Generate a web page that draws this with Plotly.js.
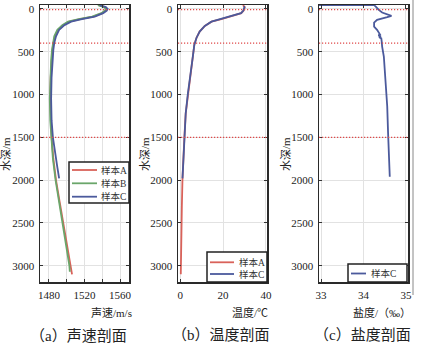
<!DOCTYPE html>
<html>
<head>
<meta charset="utf-8">
<script src="https://cdn.plot.ly/plotly-3.0.1.min.js"></script>
<style>html,body{margin:0;padding:0;background:#fff;}#chart{width:423px;height:351px;}</style>
</head>
<body>
<div id="chart"></div>
<script>
// ---- Data ----
// Sound speed profiles (m/s) vs depth (m)
const speedDepthA = [-44, -20, 0, 20, 50, 90, 120, 150, 190, 245, 320, 400, 480, 600, 800, 1050, 1300, 1500, 1750, 2000, 2250, 2500, 2750, 3000, 3100];
const speedA      = [1536, 1543, 1545, 1544, 1540, 1530, 1515, 1503, 1496, 1490.5, 1487, 1485, 1484, 1483, 1482, 1481.5, 1482, 1483, 1485, 1488, 1492, 1496, 1500, 1504, 1506];
const speedDepthB = [-44, -20, 0, 20, 50, 90, 120, 150, 190, 245, 320, 400, 480, 600, 800, 1050, 1300, 1500, 1750, 2000, 2250, 2500, 2750, 3000, 3070];
const speedB      = [1535, 1542, 1544, 1543, 1539, 1528.5, 1513.5, 1501.5, 1495, 1489.5, 1486, 1484.5, 1483.5, 1482.5, 1481.5, 1481, 1481.5, 1482.5, 1484.5, 1487.5, 1491.5, 1495.5, 1499.5, 1503, 1503.5];
const speedDepthC = [-44, -20, 0, 20, 50, 90, 120, 150, 190, 245, 320, 400, 480, 600, 800, 1050, 1300, 1500, 1710, 1850, 1980];
const speedC      = [1537, 1544, 1546, 1545, 1541, 1531.5, 1517, 1505, 1497.5, 1491.5, 1488, 1486, 1485, 1484, 1483, 1482.5, 1483, 1484.5, 1487, 1489.5, 1491.5];

// Temperature profiles (°C) vs depth (m)
const tempDepthA = [-44, -20, 0, 20, 50, 80, 120, 150, 200, 265, 340, 420, 560, 790, 990, 1220, 1490, 1730, 1980, 2300, 2700, 3100];
const tempA      = [29.3, 30.1, 29.9, 29.6, 28.5, 24.7, 19.2, 14.6, 11.5, 9.1, 7.6, 6.6, 5.9, 4.6, 3.6, 2.6, 2.0, 1.5, 1.1, 0.8, 0.5, 0.3];
const tempDepthC = [-30, -20, 0, 20, 50, 80, 120, 150, 200, 265, 340, 420, 560, 790, 990, 1220, 1490, 1730, 1980];
const tempC      = [29.6, 30.0, 29.8, 29.5, 28.4, 24.6, 19.1, 14.6, 11.5, 9.1, 7.6, 6.6, 5.9, 4.6, 3.6, 2.6, 2.0, 1.5, 1.1];

// Salinity profile (‰) vs depth (m)
const salDepthC = [-43, -43, -27, 12, 43, 70, 82, 97, 109, 128, 160, 207, 245, 284, 300, 310, 320, 330, 345, 382, 440, 557, 830, 1140, 1450, 1960];
const salC      = [32.9, 34.25, 34.29, 34.36, 34.44, 34.6, 34.66, 34.56, 34.44, 34.32, 34.25, 34.25, 34.32, 34.36, 34.39, 34.35, 34.41, 34.37, 34.42, 34.43, 34.44, 34.48, 34.52, 34.56, 34.58, 34.62];

// Reference depths marked with red dotted lines (m)
const markerDepths = [10, 400, 1500];

// Tick labels
const depthTicks = [0, 500, 1000, 1500, 2000, 2500, 3000];
const speedTicks = [1480, 1500, 1520, 1540, 1560];
const speedTickText = ['1480', '', '1520', '', '1560'];
const tempTicks = [0, 20, 40];
const salTicks = [33, 34, 35];

const seriesNames = ['样本A', '样本B', '样本C'];
const panelCaptions = ['（a）声速剖面', '（b）温度剖面', '（c）盐度剖面'];
const xTitles = ['声速/m/s', '温度/℃', '盐度/（‰）'];
const yTitle = '水深/m';

// ---- Styling ----
const W = 423, H = 351;
const px = x => x / W;
const py = y => 1 - y / H;
const FONT = '"Liberation Serif", "Times New Roman", "Noto Sans CJK SC", serif';
const COLS = ['#d9625a', '#6aa66a', '#4b5a9c'];
const LW = 1.8;

const traces = [
  {x: speedA, y: speedDepthA, name: seriesNames[0], xaxis: 'x', yaxis: 'y', line: {color: COLS[0], width: LW}},
  {x: speedB, y: speedDepthB, name: seriesNames[1], xaxis: 'x', yaxis: 'y', line: {color: COLS[1], width: LW}},
  {x: speedC, y: speedDepthC, name: seriesNames[2], xaxis: 'x', yaxis: 'y', line: {color: COLS[2], width: LW}},
  {x: tempA, y: tempDepthA, name: seriesNames[0], xaxis: 'x2', yaxis: 'y2', line: {color: COLS[0], width: LW}},
  {x: tempC, y: tempDepthC, name: seriesNames[2], xaxis: 'x2', yaxis: 'y2', line: {color: COLS[2], width: LW}},
  {x: salC, y: salDepthC, name: seriesNames[2], xaxis: 'x3', yaxis: 'y3', line: {color: COLS[2], width: LW}}
].map(t => Object.assign({type: 'scatter', mode: 'lines', showlegend: false}, t));

const yDom = [py(282), py(5)];
const common = {
  ticks: 'inside', ticklen: 3, tickwidth: 1, tickcolor: '#333',
  showline: true, mirror: 'allticks', linecolor: '#2a2a2a', linewidth: 1.5,
  showgrid: true, gridcolor: '#e2e2e2', gridwidth: 1, zeroline: false,
  tickfont: {family: FONT, size: 11, color: '#222'}
};
const xCommon = Object.assign({}, common, {tickmode: 'array', ticklabelstandoff: 2});
const yCommon = Object.assign({}, common, {tickmode: 'array', tickvals: depthTicks, range: [3190, -45], ticklabelstandoff: 2});

const xDoms = [[px(40), px(129)], [px(178), px(267)], [px(319), px(408)]];

const shapes = [];
const annotations = [];
['', '2', '3'].forEach(s => {
  markerDepths.forEach(d => {
    shapes.push({type: 'line', xref: 'x' + s + ' domain', yref: 'y' + s, x0: 0, x1: 1, y0: d, y1: d,
      line: {color: '#e04848', width: 1.2, dash: '1.2px,1.8px'}, layer: 'above'});
  });
});
shapes.push({type: 'line', xref: 'paper', yref: 'paper', x0: px(413), x1: px(413), y0: py(0), y1: py(295),
  line: {color: '#888', width: 1}});

// ---- Legends (boxes in pixel positions, entries from series names/colours) ----
const legends = [
  {box: [69, 162, 129, 203], rows: [170, 183.3, 196.7], line: [72, 97], text: 99, idx: [0, 1, 2]},
  {box: [207, 252, 267, 282], rows: [262.3, 274], line: [210, 234], text: 237, idx: [0, 2]},
  {box: [348, 264, 407, 282], rows: [273.5], line: [351, 366], text: 369, idx: [2]}
];
legends.forEach(L => {
  shapes.push({type: 'rect', xref: 'paper', yref: 'paper', x0: px(L.box[0]), x1: px(L.box[2]), y0: py(L.box[1]), y1: py(L.box[3]),
    line: {color: '#222', width: 1.5}, fillcolor: '#fff', layer: 'above'});
  L.idx.forEach((k, j) => {
    shapes.push({type: 'line', xref: 'paper', yref: 'paper', x0: px(L.line[0]), x1: px(L.line[1]), y0: py(L.rows[j]), y1: py(L.rows[j]),
      line: {color: COLS[k], width: LW}, layer: 'above'});
    annotations.push({xref: 'paper', yref: 'paper', x: px(L.text), y: py(L.rows[j]), text: seriesNames[k], showarrow: false,
      xanchor: 'left', yanchor: 'middle', font: {family: FONT, size: 9.5, color: '#333'}});
  });
});

const yTitleX = [6, 145, 286];
const xTitleRight = [134, 270, 413];
const capX = [78, 221, 362];
for (let i = 0; i < 3; i++) {
  annotations.push({xref: 'paper', yref: 'paper', x: px(yTitleX[i]), y: py(154), text: yTitle, textangle: -90,
    showarrow: false, xanchor: 'center', yanchor: 'middle', font: {family: FONT, size: 11, color: '#222'}});
  annotations.push({xref: 'paper', yref: 'paper', x: px(xTitleRight[i]), y: py(312), text: xTitles[i],
    showarrow: false, xanchor: 'right', yanchor: 'middle', font: {family: FONT, size: 11, color: '#222'}});
  annotations.push({xref: 'paper', yref: 'paper', x: px(capX[i]), y: py(335), text: panelCaptions[i],
    showarrow: false, xanchor: 'center', yanchor: 'middle', font: {family: FONT, size: 15, color: '#222'}});
}

const layout = {
  width: W, height: H,
  margin: {l: 0, r: 0, t: 0, b: 0},
  paper_bgcolor: '#fff', plot_bgcolor: '#fff',
  font: {family: FONT, size: 11, color: '#222'},
  xaxis: Object.assign({}, xCommon, {domain: xDoms[0], anchor: 'y', range: [1470, 1570], tickvals: speedTicks, ticktext: speedTickText}),
  yaxis: Object.assign({}, yCommon, {domain: yDom, anchor: 'x'}),
  xaxis2: Object.assign({}, xCommon, {domain: xDoms[1], anchor: 'y2', range: [-1, 40.5], tickvals: tempTicks}),
  yaxis2: Object.assign({}, yCommon, {domain: yDom, anchor: 'x2'}),
  xaxis3: Object.assign({}, xCommon, {domain: xDoms[2], anchor: 'y3', range: [32.95, 35.05], tickvals: salTicks}),
  yaxis3: Object.assign({}, yCommon, {domain: yDom, anchor: 'x3'}),
  shapes: shapes,
  annotations: annotations,
  showlegend: false
};

Plotly.newPlot('chart', traces, layout, {staticPlot: true, displayModeBar: false});
</script>
</body>
</html>
